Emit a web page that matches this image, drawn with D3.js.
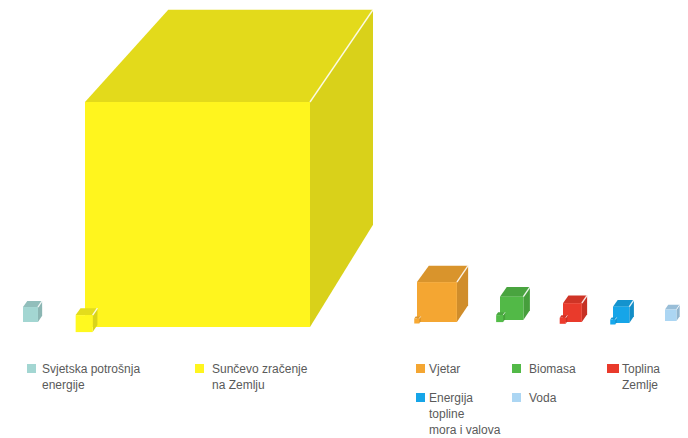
<!DOCTYPE html>
<html>
<head>
<meta charset="utf-8">
<script src="https://cdn.jsdelivr.net/npm/d3@7"></script>
<style>
  html, body { margin: 0; padding: 0; background: #fff; }
  svg { display: block; }
  text { font-family: "Liberation Sans", Arial, sans-serif; }
</style>
</head>
<body>
<svg id="chart" width="688" height="438"></svg>
<script>
// Annual energy, expressed as multiples of world energy consumption
const categories = [
  "Svjetska potrošnja energije",
  "Sunčevo zračenje na Zemlju",
  "Vjetar",
  "Biomasa",
  "Toplina Zemlje",
  "Energija topline mora i valova",
  "Voda"
];
const values = [1, 3400, 19, 3.8, 2.0, 1.3, 0.45];

// Legend text, broken into lines
const legendLines = [
  ["Svjetska potrošnja", "energije"],
  ["Sunčevo zračenje", "na Zemlju"],
  ["Vjetar"],
  ["Biomasa"],
  ["Toplina", "Zemlje"],
  ["Energija", "topline", "mora i valova"],
  ["Voda"]
];

const colors = ["#a3d6d2", "#fff51e", "#f4a632", "#52b947", "#e93a2b", "#16a5e8", "#acd6f3"];

// Placement of each cube: left edge of front face, bottom of front face,
// size of the small reference cube sitting at its lower-left corner
const cubeLayout = [
  { x: 23,  base: 322, mark: 0 },
  { x: 85,  base: 327, mark: 17 },
  { x: 417, base: 322, mark: 5 },
  { x: 500, base: 320, mark: 7 },
  { x: 563, base: 322, mark: 6 },
  { x: 613, base: 323, mark: 5 },
  { x: 665, base: 321, mark: 0 }
];

// Legend placement: square position and text offset
const legendLayout = [
  { x: 27,  y: 364, w: 9,  tx: 15 },
  { x: 195, y: 364, w: 9,  tx: 17 },
  { x: 416, y: 364, w: 9,  tx: 13 },
  { x: 512, y: 364, w: 9,  tx: 17 },
  { x: 607, y: 364, w: 12, tx: 15 },
  { x: 416, y: 393, w: 9,  tx: 13 },
  { x: 512, y: 393, w: 9,  tx: 17 }
];

const svg = d3.select("#chart");

// Side length grows with the cube root of the energy (volume ∝ value)
const side = d3.scalePow().exponent(1 / 3)
  .domain([0, d3.max(values)])
  .range([0, 225]);

const DX = 0.28, DY = 0.41; // depth offset of the back upper-right corner

function cube(g, x0, y0, s, color) {
  const dx = s * DX, dy = s * DY;
  // slight perspective: the back face shrinks a little on large cubes
  const kw = 1 - 0.0004 * s, kh = 1 - 0.0002 * s;
  const c = d3.color(color);
  const top = c.darker(0.33).formatHex();
  const sideCol = c.darker(0.45).formatHex();
  const x1 = x0 + s, yt = y0 - s;
  const bxr = x1 + dx, byt = yt - dy;
  const bxl = bxr - kw * s, byb = byt + kh * s;
  // top face
  g.append("path")
    .attr("d", `M${x0},${yt}L${bxl},${byt}L${bxr},${byt}L${x1},${yt}Z`)
    .attr("fill", top);
  // right face
  g.append("path")
    .attr("d", `M${x1},${yt}L${bxr},${byt}L${bxr},${byb}L${x1},${y0}Z`)
    .attr("fill", sideCol);
  // front face
  g.append("rect")
    .attr("x", x0).attr("y", yt).attr("width", s).attr("height", s)
    .attr("fill", c.formatHex());
  // highlight on the upper right edge
  g.append("line")
    .attr("x1", x1).attr("y1", yt).attr("x2", bxr).attr("y2", byt)
    .attr("stroke", "#fff").attr("stroke-opacity", 0.85)
    .attr("stroke-width", Math.max(0.8, Math.min(1.4, s / 12)));
}

const cubes = svg.append("g");
values.forEach((v, i) => {
  const L = cubeLayout[i];
  const s = side(v);
  const g = cubes.append("g").attr("class", "cube");
  cube(g, L.x, L.base, s, colors[i]);
  if (L.mark > 0) {
    const m = L.mark;
    const mx = L.x - m * 0.55;
    const my = L.base + m * 0.3;
    cube(g, mx, my, m, d3.color(colors[i]).brighter(0.05).formatHex());
  }
});

// Legend
const legend = svg.append("g");
categories.forEach((name, i) => {
  const L = legendLayout[i];
  const g = legend.append("g");
  g.append("rect")
    .attr("x", L.x).attr("y", L.y)
    .attr("width", L.w).attr("height", 9)
    .attr("fill", colors[i]);
  const tx = L.x + L.tx;
  const t = g.append("text")
    .attr("x", tx).attr("y", L.y + 9)
    .attr("font-size", 12)
    .attr("fill", "#5a5a5a");
  legendLines[i].forEach((line, k) => {
    t.append("tspan").attr("x", tx).attr("dy", k === 0 ? 0 : 16).text(line);
  });
});
</script>
</body>
</html>
